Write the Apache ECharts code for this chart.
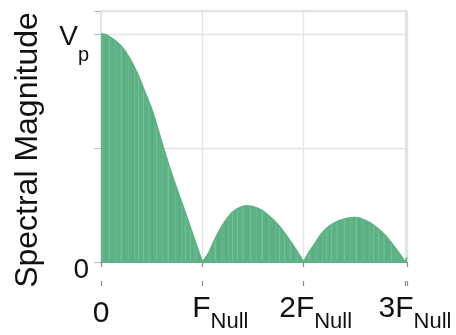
<!DOCTYPE html>
<html>
<head>
<meta charset="utf-8">
<script src="https://cdn.jsdelivr.net/npm/echarts@6/dist/echarts.min.js"></script>
<style>
  html, body { margin: 0; padding: 0; background: #fff; }
  #chart { width: 456px; height: 335px; }
</style>
</head>
<body>
<div id="chart"></div>
<script>
// Each lobe runs between two nulls; frequency is in multiples of F_Null,
// magnitude is a fraction of the peak Vp.
const mainLobeFreq = [0, 0.072, 0.197, 0.286, 0.368, 0.434, 0.50, 0.55, 0.60, 0.70, 0.80, 0.90, 1.0];
const mainLobeMag  = [1.0, 0.991, 0.948, 0.890, 0.817, 0.744, 0.671, 0.600, 0.525, 0.383, 0.257, 0.129, 0];

const lobe1Freq = [1.0, 1.06, 1.12, 1.19, 1.257, 1.323, 1.438, 1.553, 1.652, 1.75, 1.849, 1.948, 2.0];
const lobe1Mag  = [0, 0.038, 0.096, 0.154, 0.198, 0.227, 0.246, 0.235, 0.205, 0.162, 0.104, 0.038, 0];

const lobe2Freq = [2.0, 2.046, 2.112, 2.178, 2.244, 2.342, 2.507, 2.639, 2.771, 2.869, 2.968, 3.0];
const lobe2Mag  = [0, 0.038, 0.082, 0.125, 0.154, 0.180, 0.195, 0.176, 0.132, 0.082, 0.023, 0];

const lobe3Freq = [3.0, 3.02];
const lobe3Mag  = [0, 0.02];

// Tick labels: [main text, subscript]
const xTickLabels = [['0', ''], ['F', 'Null'], ['2F', 'Null'], ['3F', 'Null']];
const yTickLabels = { 0: ['0', ''], 1: ['V', 'p'] };
const yAxisTitle = 'Spectral Magnitude';

const FONT = '"Liberation Sans", Arial, Helvetica, sans-serif';
const GREEN = '#5cb185';

// Join the lobes into one path, breaking it at every null so each lobe is
// smoothed on its own and the nulls stay sharp.
const lobes = [[mainLobeFreq, mainLobeMag], [lobe1Freq, lobe1Mag], [lobe2Freq, lobe2Mag], [lobe3Freq, lobe3Mag]];
const pts = [];
lobes.forEach(([fs, ms], k) => {
  if (k > 0) pts.push([fs[0], '-']);
  fs.forEach((f, i) => pts.push([f, ms[i]]));
});

// Fine vertical streaks in the fill
function streakPattern() {
  const c = document.createElement('canvas');
  c.width = 47; c.height = 4;
  const g = c.getContext('2d');
  g.fillStyle = GREEN;
  g.fillRect(0, 0, c.width, c.height);
  const light = [2, 7, 8, 15, 21, 26, 27, 34, 40, 44];
  light.forEach((x, i) => {
    g.fillStyle = i % 3 === 0 ? 'rgba(255,255,255,0.16)' : 'rgba(255,255,255,0.08)';
    g.fillRect(x, 0, 1, c.height);
  });
  [11, 30, 38].forEach(x => {
    g.fillStyle = 'rgba(0,60,30,0.06)';
    g.fillRect(x, 0, 1, c.height);
  });
  return c;
}

const chart = echarts.init(document.getElementById('chart'), null, { renderer: 'canvas' });

const xRich = {
  m: { fontFamily: FONT, fontSize: 30, color: '#111', lineHeight: 30 },
  z: { fontFamily: FONT, fontSize: 30, color: '#111', lineHeight: 30, padding: [9, 0, 0, 0] },
  s: { fontFamily: FONT, fontSize: 22, color: '#111', lineHeight: 22, padding: [26, 0, 0, 0] },
  g1: { width: 36 },
  g2: { width: 24 },
  g3: { width: 16 }
};

function xLabel(value) {
  const i = Math.round(value);
  const lab = xTickLabels[i];
  if (!lab) return '';
  if (!lab[1]) return '{z|' + lab[0] + '}';
  return '{g' + i + '|}{m|' + lab[0] + '}{s|' + lab[1] + '}';
}

function yLabel(value) {
  const lab = yTickLabels[value];
  if (!lab) return '';
  if (!lab[1]) return '{z|' + lab[0] + '}';
  return '{m|' + lab[0] + '}{s|' + lab[1] + '}';
}

const xBase = {
  type: 'value',
  min: 0,
  max: 3.02,
  interval: 1,
  offset: 24,
  position: 'bottom'
};

chart.setOption({
  animation: false,
  grid: {
    left: 101, top: 11, width: 306, height: 251,
    show: true, borderColor: '#c4c4c4', borderWidth: 1, backgroundColor: 'transparent'
  },
  xAxis: [
    Object.assign({}, xBase, {
      axisLine: { show: true, lineStyle: { color: '#8a8a8a', width: 1.2 } },
      axisTick: { show: true, length: 5, lineStyle: { color: '#8a8a8a', width: 1.2 } },
      axisLabel: {
        show: true, margin: 8, formatter: xLabel, rich: xRich,
        showMaxLabel: true, hideOverlap: false
      },
      splitLine: { show: true, lineStyle: { color: '#e4e4e4', width: 1.3 } }
    }),
    Object.assign({}, xBase, {
      axisLine: { show: false },
      axisTick: { show: true, inside: true, length: 5, lineStyle: { color: '#8a8a8a', width: 1.2 } },
      axisLabel: { show: false },
      splitLine: { show: false }
    })
  ],
  yAxis: {
    type: 'value',
    min: 0,
    max: 1.1,
    interval: 0.5,
    name: yAxisTitle,
    nameLocation: 'middle',
    nameGap: 57,
    nameTextStyle: { fontFamily: FONT, fontSize: 32, color: '#111', padding: [0, 27, 0, 0] },
    axisLine: { show: false },
    axisTick: { show: true, length: 7, lineStyle: { color: '#bdbdbd' } },
    axisLabel: {
      show: true, margin: 12, formatter: yLabel,
      rich: {
        m: { fontFamily: FONT, fontSize: 28, color: '#111', lineHeight: 28, padding: [6, 0, 0, 0] },
        z: { fontFamily: FONT, fontSize: 28, color: '#111', lineHeight: 28, padding: [16, 0, 0, 0] },
        s: { fontFamily: FONT, fontSize: 20, color: '#111', lineHeight: 20, padding: [43, 0, 0, 0] }
      }
    },
    splitLine: { show: true, lineStyle: { color: '#e4e4e4', width: 1.3 } }
  },
  series: [{
    type: 'line',
    data: pts,
    smooth: 0.4,
    connectNulls: false,
    symbol: 'none',
    lineStyle: { color: GREEN, width: 1.5 },
    areaStyle: { color: { image: streakPattern(), repeat: 'repeat' }, opacity: 1 },
    markLine: {
      silent: true, symbol: 'none', label: { show: false },
      lineStyle: { color: GREEN, type: 'solid', width: 2 },
      data: [{ yAxis: 0 }]
    }
  }]
});
</script>
</body>
</html>
